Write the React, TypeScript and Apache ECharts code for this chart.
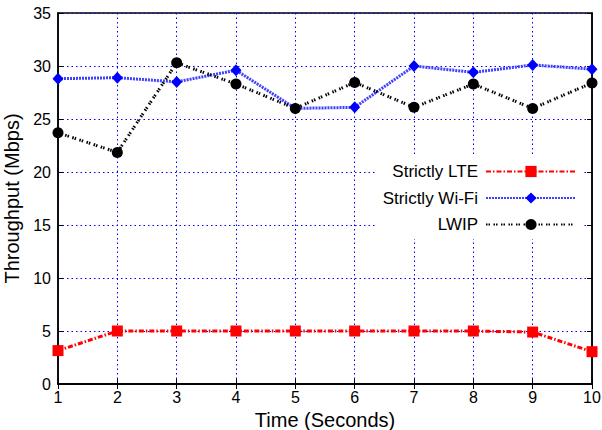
import React, { useEffect, useRef } from "react";
import * as echarts from "echarts";

const times = [1, 2, 3, 4, 5, 6, 7, 8, 9, 10];
const lteValues = [3.15, 5.0, 5.0, 5.0, 5.0, 5.0, 5.0, 5.0, 4.9, 3.05];
const wifiValues = [28.8, 28.9, 28.5, 29.6, 26.0, 26.1, 30.0, 29.4, 30.1, 29.7];
const lwipValues = [23.7, 21.85, 30.3, 28.3, 26.0, 28.45, 26.1, 28.3, 26.0, 28.4];

const FONT = "'Liberation Sans', Arial, sans-serif";

export default function App() {
  const ref = useRef<HTMLDivElement>(null);
  useEffect(() => {
    document.body.style.margin = "0";
    if (!ref.current) return;
    const chart = echarts.init(ref.current, undefined, { renderer: "svg" });
    const pair = (vals: number[]) => times.map((t, i) => [t, vals[i]]);
    const gridLine = { show: true, lineStyle: { color: "#0000ff", width: 1, type: [1.5, 3] as any } };
    chart.setOption({
      animation: false,
      backgroundColor: "#ffffff",
      textStyle: { fontFamily: FONT },
      grid: {
        left: 58, right: 10, top: 13, bottom: 46,
        containLabel: false,
        outerBoundsMode: "none",
        show: true, borderColor: "#000", borderWidth: 1.5, backgroundColor: "transparent",
      },
      legend: {
        orient: "vertical",
        right: 19,
        top: 157,
        align: "right",
        itemWidth: 90,
        itemHeight: 14,
        itemGap: 9.5,
        padding: [6, 6, 6, 6],
        backgroundColor: "#ffffff",
        textStyle: { fontFamily: FONT, fontSize: 17, color: "#000", padding: [0, 3, 0, 0] },
        data: ["Strictly LTE", "Strictly Wi-Fi", "LWIP"],
      },
      xAxis: [
        {
          type: "value",
          min: 1,
          max: 10,
          interval: 1,
          name: "Time (Seconds)",
          nameLocation: "middle",
          nameGap: 14,
          nameTextStyle: { fontFamily: FONT, fontSize: 20, color: "#000" },
          axisLine: { show: true, lineStyle: { color: "#000", width: 1.5 } },
          axisTick: { show: true, inside: true, length: 5, lineStyle: { color: "#000" } },
          axisLabel: { fontFamily: FONT, fontSize: 16, color: "#000", margin: 5 },
          splitLine: gridLine,
        },
        {
          type: "value",
          position: "top",
          min: 1,
          max: 10,
          interval: 1,
          axisLine: { show: true, lineStyle: { color: "#000", width: 1.5 } },
          axisTick: { show: true, inside: true, length: 5, lineStyle: { color: "#000" } },
          axisLabel: { show: false },
          splitLine: { show: false },
        },
      ],
      yAxis: [
        {
          type: "value",
          min: 0,
          max: 35,
          interval: 5,
          name: "Throughput (Mbps)",
          nameLocation: "middle",
          nameGap: 30,
          nameTextStyle: { fontFamily: FONT, fontSize: 20, color: "#000" },
          axisLine: { show: true, lineStyle: { color: "#000", width: 1.5 } },
          axisTick: { show: true, inside: true, length: 5, lineStyle: { color: "#000" } },
          axisLabel: { fontFamily: FONT, fontSize: 16, color: "#000", margin: 7 },
          splitLine: gridLine,
        },
        {
          type: "value",
          position: "right",
          min: 0,
          max: 35,
          interval: 5,
          axisLine: { show: true, lineStyle: { color: "#000", width: 1.5 } },
          axisTick: { show: true, inside: true, length: 5, lineStyle: { color: "#000" } },
          axisLabel: { show: false },
          splitLine: { show: false },
        },
      ],
      series: [
        {
          name: "Strictly LTE",
          type: "line",
          data: pair(lteValues),
          symbol: "rect",
          symbolSize: 11,
          itemStyle: { color: "#ff0000" },
          lineStyle: { color: "#ff0000", width: 3, type: [5, 2, 1.5, 2] },
        },
        {
          name: "Strictly Wi-Fi",
          type: "line",
          data: pair(wifiValues),
          symbol: "diamond",
          symbolSize: [11, 12],
          itemStyle: { color: "#0000ff" },
          lineStyle: { color: "#4040ff", width: 3, type: [2, 1] },
        },
        {
          name: "LWIP",
          type: "line",
          data: pair(lwipValues),
          symbol: "circle",
          symbolSize: 11,
          itemStyle: { color: "#000000" },
          lineStyle: { color: "#000000", width: 3, type: [1.5, 1, 1.5, 3.5] },
        },
      ],
    });
    return () => chart.dispose();
  }, []);
  return <div ref={ref} style={{ width: 602, height: 430 }} />;
}
